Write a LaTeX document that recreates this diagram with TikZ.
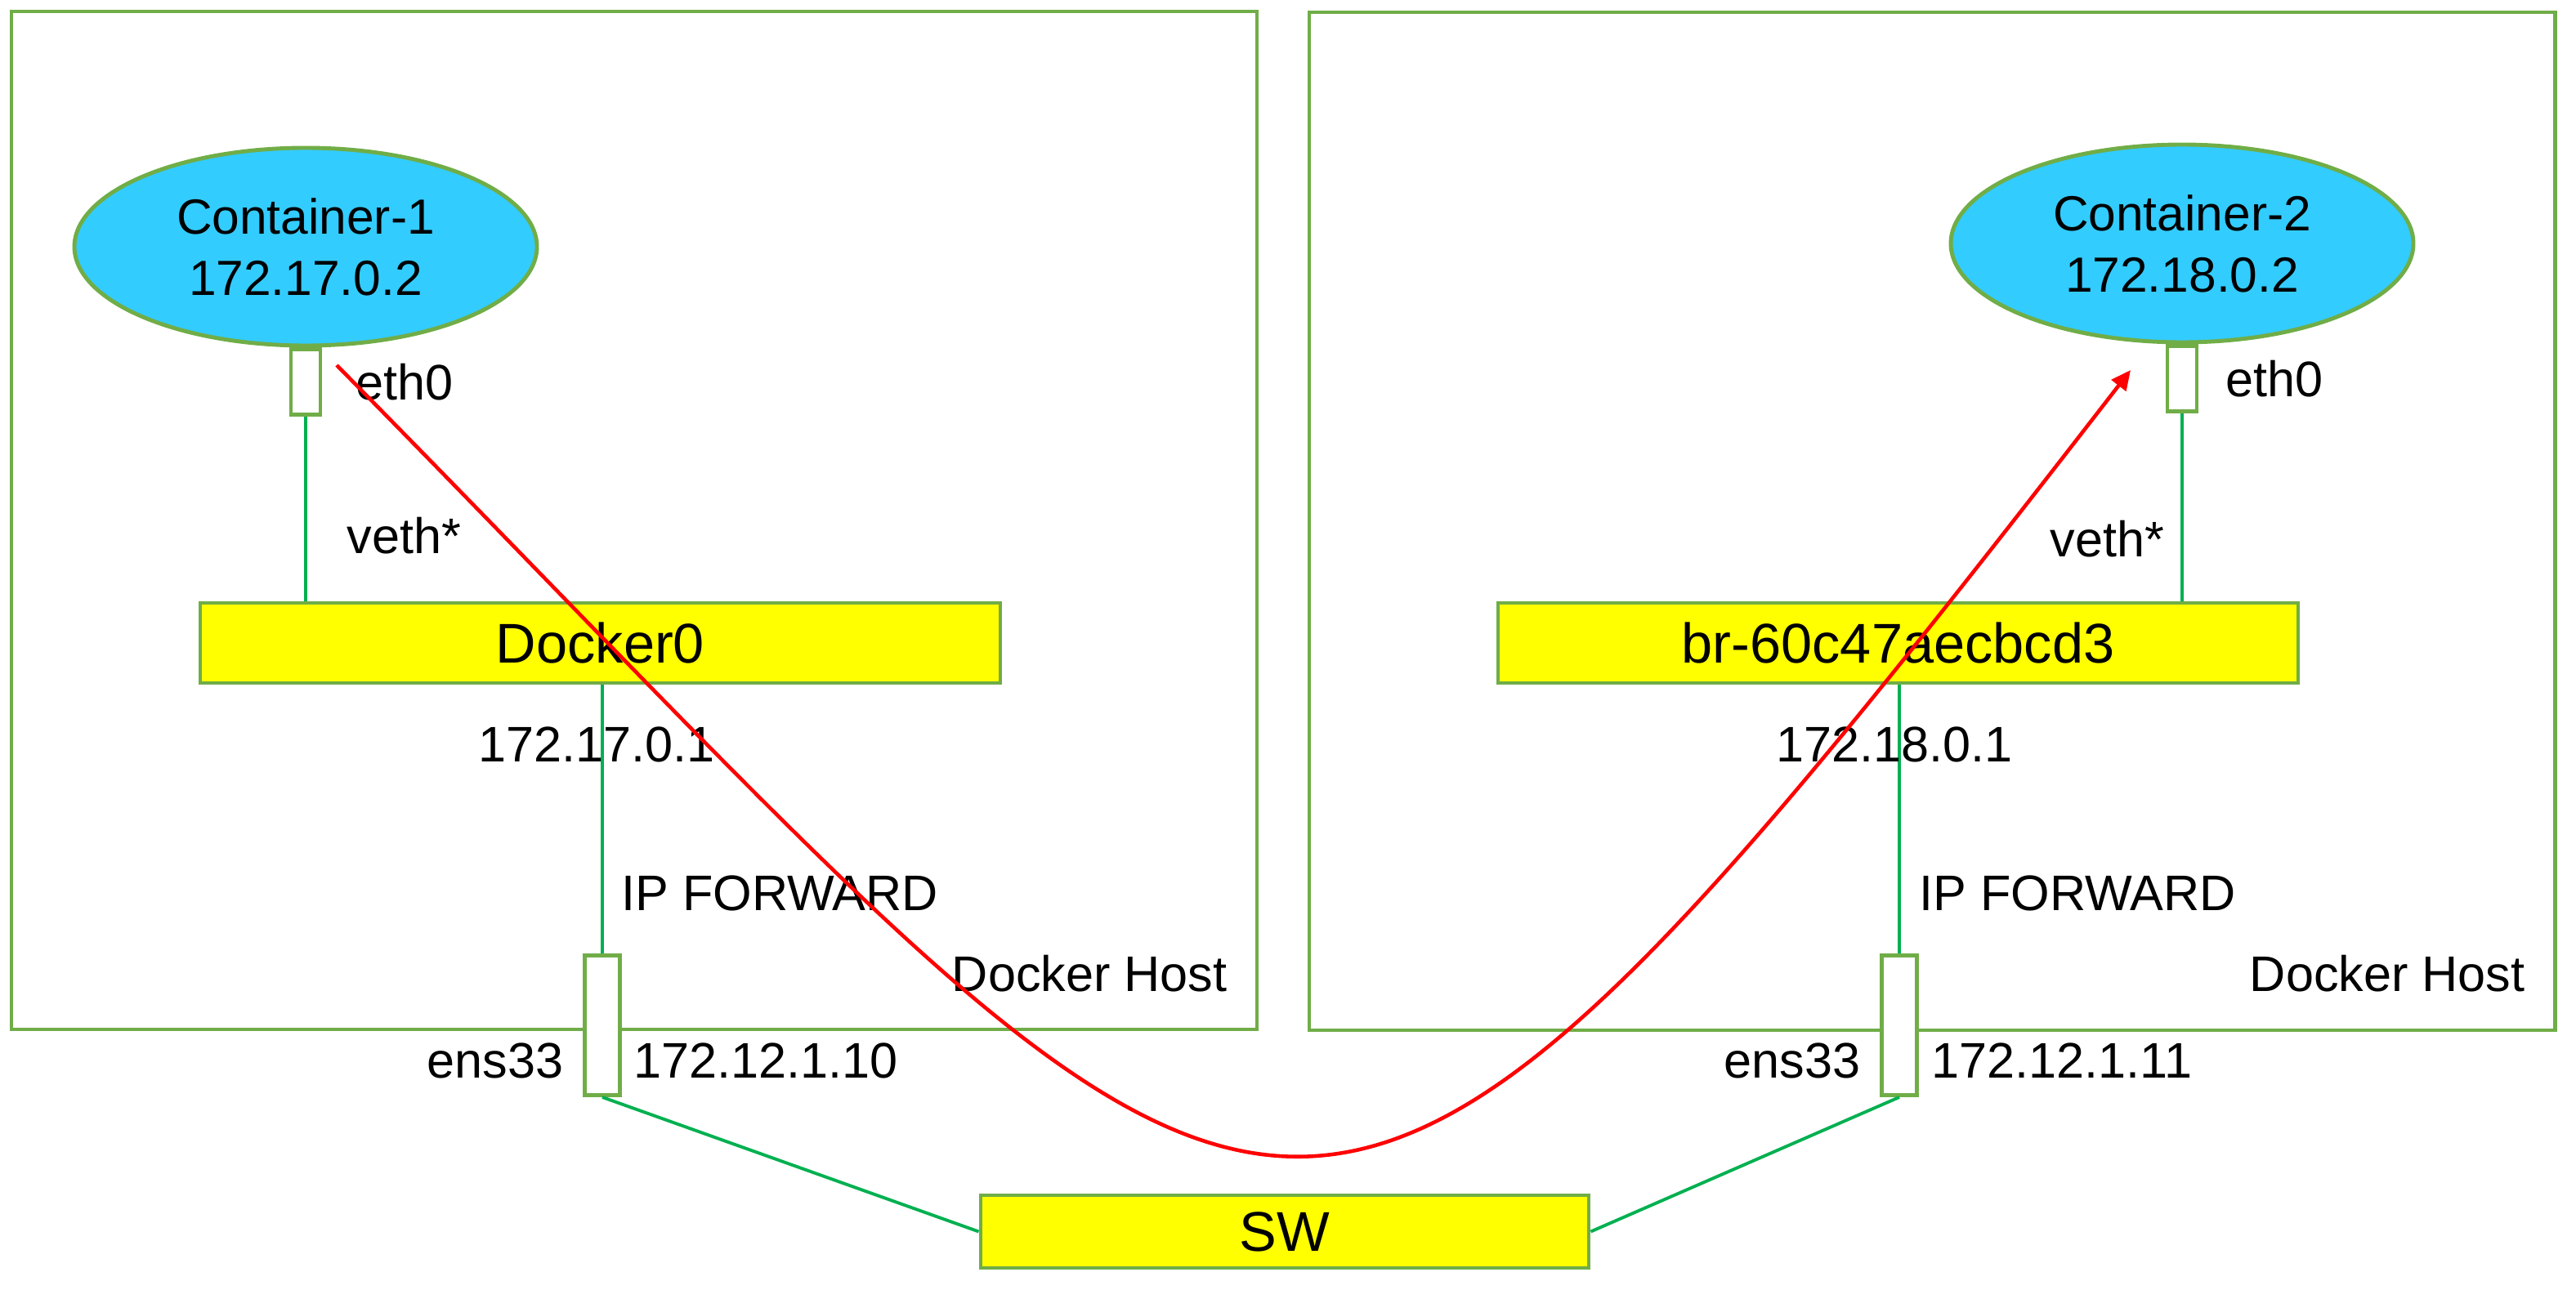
\documentclass[tikz,border=0pt]{standalone}
\usepackage{fontspec}
\setmainfont{Liberation Sans}
\usetikzlibrary{positioning,shapes.geometric,arrows.meta}

\definecolor{framegreen}{HTML}{70AD47}
\definecolor{linkgreen}{HTML}{00B050}
\definecolor{ctblue}{HTML}{33CCFF}
\definecolor{bryellow}{HTML}{FFFF00}

\tikzset{
  host/.style={draw=framegreen, line width=1.4pt, minimum width=15.24cm, minimum height=12.46cm},
  container/.style={ellipse, draw=framegreen, line width=1.4pt, fill=ctblue, minimum width=5.66cm,
    minimum height=2.42cm, inner sep=0pt, align=center, font=\fontsize{17.2}{21.3}\selectfont},
  nic/.style={draw=framegreen, line width=1.4pt, fill=white, minimum width=0.36cm, minimum height=0.80cm, inner sep=0pt},
  bridge/.style={draw=framegreen, line width=1.4pt, fill=bryellow, minimum width=9.79cm, minimum height=0.98cm,
    inner sep=0pt, font=\fontsize{19.5}{23}\selectfont},
  lbl/.style={inner sep=0pt, font=\fontsize{17.4}{21}\selectfont},
  wire/.style={draw=linkgreen, line width=1.1pt}
}

\begin{document}
\begin{tikzpicture}
        \useasboundingbox (0,0) rectangle (31.52,15.78);

        % docker hosts
        \node [host] (h1) at (7.76,9.41) {};
        \node [host] (h2) at (23.64,9.40) {};

        % containers and their eth0
        \node [container] (c1) at (3.74,12.76) {Container-1\\172.17.0.2};
        \node [container] (c2) at (26.70,12.80) {Container-2\\172.18.0.2};
        \node [nic, below=0pt of c1] (p1) {};
        \node [nic, below=0pt of c2] (p2) {};

        % bridges
        \node [bridge] (dk0) at (7.345,7.91) {Docker0};
        \node [bridge] (br) at (23.225,7.91) {br-60c47aecbcd3};

        % host nics
        \node [nic, minimum width=0.43cm, minimum height=1.71cm] (e1) at (7.37,3.23) {};
        \node [nic, minimum width=0.43cm, minimum height=1.71cm] (e2) at (23.24,3.23) {};

        \node [bridge, minimum width=7.44cm, minimum height=0.89cm] (sw) at (15.72,0.705) {SW};

        \draw [wire] (p1.south) -- (p1.south |- dk0.north);
        \draw [wire] (p2.south) -- (p2.south |- br.north);
        \draw [wire] (e1.north |- dk0.south) -- (e1.north);
        \draw [wire] (e2.north |- br.south) -- (e2.north);
        \draw [wire] (e1.south) -- (sw.west);
        \draw [wire] (e2.south) -- (sw.east);

        \node [lbl, right=0.4cm of p1] (eth1) {eth0};
        \node [lbl, right=0.32cm of p2] (eth2) {eth0};
        \node [lbl, anchor=west] (veth1) at (4.24,9.22) {veth*};
        \node [lbl, anchor=east] (veth2) at (26.49,9.18) {veth*};
        \node [lbl] (gw1) at (7.30,6.67) {172.17.0.1};
        \node [lbl] (gw2) at (23.18,6.67) {172.18.0.1};
        \node [lbl, anchor=west] (fw1) at (7.60,4.85) {IP FORWARD};
        \node [lbl, anchor=west] (fw2) at (23.48,4.85) {IP FORWARD};
        \node [lbl, anchor=east] (dh1) at (15.02,3.86) {Docker Host};
        \node [lbl, anchor=east] (dh2) at (30.90,3.86) {Docker Host};
        \node [lbl, left=0.23cm of e1, yshift=-0.43cm] (ens1) {ens33};
        \node [lbl, left=0.23cm of e2, yshift=-0.43cm] (ens2) {ens33};
        \node [lbl, right=0.14cm of e1, yshift=-0.43cm] (ip1) {172.12.1.10};
        \node [lbl, right=0.15cm of e2, yshift=-0.43cm] (ip2) {172.12.1.11};

        % packet path
        \coordinate (rs) at (4.12,11.31);
        \coordinate (re) at (26.07,11.25);
        \draw [red, line width=1.3pt, -{Triangle[length=0.24cm,width=0.22cm]}]
          (rs) .. controls (16.0,-0.75) and (15.55,-2.35) .. (re);
      \end{tikzpicture}
\end{document}
